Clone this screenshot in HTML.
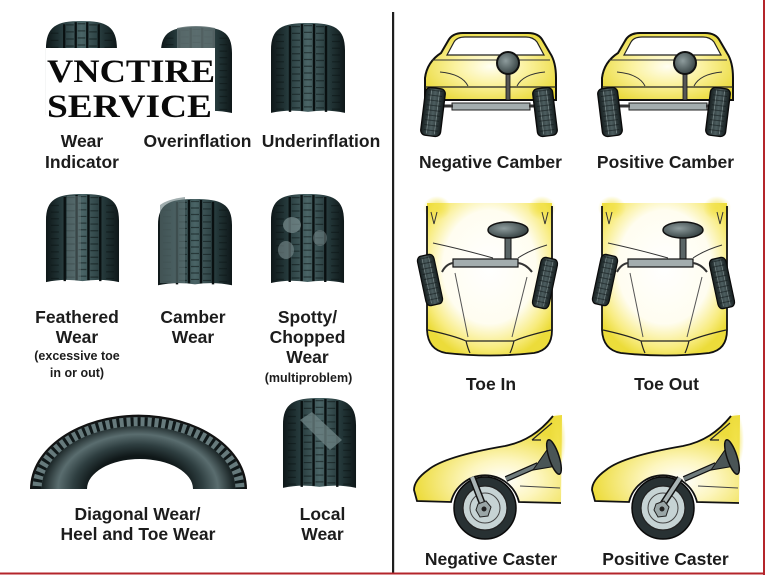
<!DOCTYPE html>
<html><head><meta charset="utf-8"><style>
html,body{margin:0;padding:0;background:#fff;}
svg{display:block;}
.l{font-family:"Liberation Sans",Arial,sans-serif;font-weight:bold;fill:#1c1c1c;font-size:17.5px;text-anchor:middle;}
.s{font-family:"Liberation Sans",Arial,sans-serif;font-weight:bold;fill:#1c1c1c;font-size:12.5px;text-anchor:middle;}
.b{font-family:"Liberation Serif","Times New Roman",serif;font-weight:bold;fill:#0a0a0a;font-size:33px;}
</style></head><body>
<svg width="768" height="576" viewBox="0 0 768 576" xmlns="http://www.w3.org/2000/svg">
<defs>
 <linearGradient id="tg" x1="0" x2="1" y1="0" y2="0">
  <stop offset="0" stop-color="#0e1718"/>
  <stop offset="0.2" stop-color="#233638"/>
  <stop offset="0.5" stop-color="#4a6466"/>
  <stop offset="0.8" stop-color="#233638"/>
  <stop offset="1" stop-color="#0e1718"/>
 </linearGradient>
 <linearGradient id="cwg" x1="0" x2="1" y1="0" y2="0">
  <stop offset="0" stop-color="#151d1e"/>
  <stop offset="0.5" stop-color="#4d5e60"/>
  <stop offset="1" stop-color="#151d1e"/>
 </linearGradient>
 <radialGradient id="yel" cx="0.5" cy="0.5" r="0.6">
  <stop offset="0" stop-color="#fffef2"/>
  <stop offset="0.45" stop-color="#fbf2a0"/>
  <stop offset="1" stop-color="#e9d938"/>
 </radialGradient>
 <radialGradient id="yel2" cx="0.5" cy="0.42" r="0.62">
  <stop offset="0" stop-color="#ffffff"/>
  <stop offset="0.6" stop-color="#fffdf0"/>
  <stop offset="0.85" stop-color="#f8ec80"/>
  <stop offset="1" stop-color="#ecdc3a"/>
 </radialGradient>
 <radialGradient id="yel3" cx="0.6" cy="0.75" r="0.6">
  <stop offset="0" stop-color="#ffffff"/>
  <stop offset="0.4" stop-color="#fdf6c0"/>
  <stop offset="1" stop-color="#eddc3c"/>
 </radialGradient>
 <radialGradient id="glow" cx="0.5" cy="0.5" r="0.5">
  <stop offset="0" stop-color="#f2e24a" stop-opacity="0.95"/>
  <stop offset="1" stop-color="#f2e24a" stop-opacity="0"/>
 </radialGradient>
 <radialGradient id="swg" cx="0.4" cy="0.4" r="0.6">
  <stop offset="0" stop-color="#8e9c9d"/>
  <stop offset="1" stop-color="#3a4647"/>
 </radialGradient>
 <radialGradient id="dg" gradientUnits="userSpaceOnUse" cx="0" cy="0" r="108" gradientTransform="translate(138,489) scale(1,0.685)">
  <stop offset="0.45" stop-color="#0f1718"/>
  <stop offset="0.6" stop-color="#2e3e40"/>
  <stop offset="0.74" stop-color="#5a6d6f"/>
  <stop offset="0.88" stop-color="#1d2829"/>
  <stop offset="1" stop-color="#111"/>
 </radialGradient>
 <g id="tire">
  <path d="M1,90 L1,28 C1,6 12,1 38,1 C64,1 75,6 75,28 L75,90 Q57,86 38,89 Q19,86 1,90 Z" fill="url(#tg)"/>
  <path d="M20,4 L20,89 M32,2 L32,88 M44,2 L44,88 M56,4 L56,89" stroke="#091011" stroke-width="2.4" fill="none"/>
  <path d="M10,12 L10,88 M26,4 L26,88 M38,3 L38,88 M50,4 L50,88 M66,12 L66,88" stroke="#0d1516" stroke-width="8" stroke-dasharray="1.2 5.5" fill="none" opacity="0.55"/>
 </g>
 <g id="cw">
  <rect x="-10" y="-24" width="20" height="48" rx="5" fill="url(#cwg)" stroke="#0a0a0a" stroke-width="1.3"/>
  <path d="M-4,-22 L-4,22 M4,-22 L4,22" stroke="#7a8a8b" stroke-width="0.8"/>
  <path d="M0,-22 L0,22" stroke="#0d1314" stroke-width="14" stroke-dasharray="1 4" opacity="0.5"/>
 </g>
 <g id="rear">
  <rect x="452" y="103" width="78" height="7" fill="#a3adae" stroke="#222" stroke-width="1"/>
  <path d="M 425,78 Q 427,62 441,53 L 448,41 Q 452,33 463,33 L 528,33 Q 539,33 543,41 L 550,53 Q 556,62 556,78 L 556,100 L 425,100 Z" fill="url(#yel)" stroke="#111" stroke-width="2"/>
  <path d="M 447,55 L 454,42 Q 457,37 465,37 L 526,37 Q 533,37 537,42 L 544,55 Z" fill="#fff" stroke="#222" stroke-width="1.2"/>
  <path d="M 432,60 L 550,60" stroke="#333" stroke-width="1"/>
  <path d="M 440,72 Q 462,74 468,86 M 545,72 Q 523,74 517,86" stroke="#333" fill="none" stroke-width="1"/>
  <path d="M 425,87 L 556,87" stroke="#222" stroke-width="1.3"/>
  <rect x="506" y="72" width="4" height="28" fill="#555" stroke="#111" stroke-width="0.8"/>
  <circle cx="508" cy="63" r="11" fill="url(#swg)" stroke="#111" stroke-width="2"/>
  <path d="M 440,106 L 453,106 M 542,106 L 529,106" stroke="#333" stroke-width="3"/>
 </g>
 <g id="top">
  <path d="M 427,203 L 427,330 Q 428,350 446,353 Q 490,358 534,353 Q 552,350 552,330 L 552,203 Z" fill="url(#yel2)"/>
  <ellipse cx="437" cy="208" rx="14" ry="12" fill="url(#glow)"/>
  <ellipse cx="542" cy="208" rx="14" ry="12" fill="url(#glow)"/>
  <path d="M 427,206 L 427,330 Q 428,350 446,353 Q 490,358 534,353 Q 552,350 552,330 L 552,206" fill="none" stroke="#111" stroke-width="1.8"/>
  <path d="M 431,212 L 434,224 L 437,212 M 548,212 L 545,224 L 542,212" stroke="#333" fill="none" stroke-width="1"/>
  <path d="M 433,243 Q 465,250 493,258 M 547,245 Q 530,250 518,258" stroke="#333" fill="none" stroke-width="1"/>
  <path d="M 455,273 L 468,337 M 527,277 L 512,337" stroke="#555" stroke-width="1"/>
  <path d="M 428,330 Q 455,336 466,341 Q 468,349 470,353 M 551,330 Q 525,336 514,341 Q 512,349 510,353 M 466,341 L 514,341" stroke="#222" fill="none" stroke-width="1.2"/>
  <rect x="505" y="236" width="6" height="26" fill="#5a6566" stroke="#111" stroke-width="1"/>
  <ellipse cx="508" cy="230" rx="20" ry="8" fill="url(#swg)" stroke="#111" stroke-width="1.5"/>
  <rect x="453" y="259" width="65" height="8" fill="#a3adae" stroke="#111" stroke-width="1.2"/>
  <path d="M 453,263 Q 446,264 442,272 M 518,263 Q 526,264 532,272" stroke="#333" fill="none" stroke-width="2"/>
 </g>
 <g id="side">
  <path d="M 553,416 C 540,432 525,442 505,446 C 470,452 440,460 428,470 Q 414,480 414,490 L 417,501 L 451,502 A 35,35 0 0 1 519,502 L 561,503 L 562,415 Z" fill="url(#yel3)"/>
  <ellipse cx="558" cy="440" rx="8" ry="28" fill="url(#glow)"/>
  <path d="M 553,416 C 540,432 525,442 505,446 C 470,452 440,460 428,470 Q 414,480 414,490 L 417,501 L 451,502 A 35,35 0 0 1 519,502 L 561,503" fill="none" stroke="#111" stroke-width="1.8"/>
  <path d="M 532,440 L 552,423 M 532,440 L 541,440" stroke="#222" stroke-width="1.2"/>
  <path d="M 520,486 L 560,488" stroke="#444" stroke-width="1"/>
  <path d="M 506,479 L 538,465" stroke="#111" stroke-width="6"/>
  <path d="M 506,479 L 538,465" stroke="#6f7b7c" stroke-width="3.5"/>
  <path d="M 533,470 L 549,447 L 557,466 Z" fill="#4a5556" stroke="#111" stroke-width="1"/>
  <ellipse cx="554" cy="457" rx="5" ry="18" transform="rotate(-18 554 457)" fill="#4a5556" stroke="#111" stroke-width="1.5"/>
  <circle cx="485" cy="508" r="31" fill="#283133" stroke="#0a0a0a" stroke-width="1.5"/>
  <circle cx="485" cy="508" r="22" fill="#c6d3d4" stroke="#222" stroke-width="1.2"/>
  <circle cx="485" cy="508" r="15" fill="none" stroke="#444" stroke-width="1"/>
 </g>
</defs>

<rect width="768" height="576" fill="#fff"/>

<!-- LEFT: tires -->
<use href="#tire" transform="translate(45,20) scale(0.96,1.055)"/>

<use href="#tire" transform="translate(160,26) scale(0.96,0.967)"/>
<path d="M177,28 Q196,24 215,28 L215,110 Q196,108 177,110 Z" fill="#5e6f70" opacity="0.85"/>

<use href="#tire" transform="translate(270,22) scale(1,1.01)"/>

<use href="#tire" transform="translate(45,193) scale(0.987,0.99)"/>
<path d="M67,196 L81,196 L81,280 L67,280 Z" fill="#6a7c7e" opacity="0.5"/>

<use href="#tire" transform="translate(157,198) scale(1,0.97)"/>
<path d="M160,205 Q168,199 185,197 L185,283 L160,283 Z" fill="#62787a" opacity="0.6"/>

<use href="#tire" transform="translate(270,193) scale(0.987,1)"/>
<ellipse cx="292" cy="225" rx="9" ry="8" fill="#7b8e90" opacity="0.7"/>
<ellipse cx="286" cy="250" rx="8" ry="9" fill="#7b8e90" opacity="0.6"/>
<ellipse cx="320" cy="238" rx="7" ry="8" fill="#7b8e90" opacity="0.5"/>

<use href="#tire" transform="translate(282,397) scale(0.987,1.01)"/>
<path d="M300,420 L312,412 L342,440 L330,450 Z" fill="#6f8486" opacity="0.75"/>

<!-- diagonal arc tire -->
<path d="M30,489 A108,74 0 0 1 247,489 L193,489 A53,30 0 0 0 87,489 Z" fill="url(#dg)"/>
<path d="M37,489 A101,67 0 0 1 240,489" fill="none" stroke="#667a7c" stroke-width="9"/>
<path d="M37,489 A101,67 0 0 1 240,489" fill="none" stroke="#101819" stroke-width="9" stroke-dasharray="3 4"/>

<!-- watermark box -->
<rect x="46" y="48" width="169" height="71" fill="#fff"/>
<text class="b" x="47" y="82" textLength="168" lengthAdjust="spacingAndGlyphs">VNCTIRE</text>
<text class="b" x="47" y="117" textLength="165" lengthAdjust="spacingAndGlyphs">SERVICE</text>

<!-- left labels -->
<text class="l" x="82" y="147">Wear</text>
<text class="l" x="82" y="168">Indicator</text>
<text class="l" x="197.5" y="147">Overinflation</text>
<text class="l" x="321" y="147">Underinflation</text>

<text class="l" x="77" y="323">Feathered</text>
<text class="l" x="77" y="343">Wear</text>
<text class="s" x="77" y="360">(excessive toe</text>
<text class="s" x="77" y="377">in or out)</text>
<text class="l" x="193" y="323">Camber</text>
<text class="l" x="193" y="343">Wear</text>
<text class="l" x="307.5" y="323">Spotty/</text>
<text class="l" x="307.5" y="343">Chopped</text>
<text class="l" x="307.5" y="363">Wear</text>
<text class="s" x="308.5" y="382">(multiproblem)</text>

<text class="l" x="137.5" y="520">Diagonal Wear/</text>
<text class="l" x="138" y="540">Heel and Toe Wear</text>
<text class="l" x="322.5" y="520">Local</text>
<text class="l" x="322.5" y="540">Wear</text>

<!-- divider -->
<rect x="392" y="12" width="2.2" height="561" fill="#1e1e1e"/>

<!-- RIGHT: camber -->
<use href="#rear"/>
<use href="#cw" transform="translate(433,112) rotate(7)"/>
<use href="#cw" transform="translate(545,112) rotate(-7)"/>

<use href="#rear" transform="translate(177,0)"/>
<use href="#cw" transform="translate(610,112) rotate(-7)"/>
<use href="#cw" transform="translate(718,112) rotate(7)"/>

<text class="l" x="490.5" y="168">Negative Camber</text>
<text class="l" x="665.5" y="168">Positive Camber</text>

<!-- toe -->
<use href="#top"/>
<use href="#cw" transform="translate(430,280) rotate(-12) scale(0.85,1.05)"/>
<use href="#cw" transform="translate(545,283) rotate(12) scale(0.85,1.05)"/>

<use href="#top" transform="translate(175,0)"/>
<use href="#cw" transform="translate(605,280) rotate(12) scale(0.85,1.05)"/>
<use href="#cw" transform="translate(722,283) rotate(-12) scale(0.85,1.05)"/>

<text class="l" x="491" y="390">Toe In</text>
<text class="l" x="666.5" y="390">Toe Out</text>

<!-- caster -->
<use href="#side"/>
<path d="M472,477 L486,513" stroke="#111" stroke-width="7"/>
<path d="M472,477 L486,513" stroke="#a9b4b5" stroke-width="4"/>
<path d="M478,504 L486,501 L491,507 L488,516 L480,517 L476,510 Z" fill="#9aa6a7" stroke="#222" stroke-width="1"/>
<circle cx="484" cy="509" r="2.5" fill="#222"/>

<use href="#side" transform="translate(178,0)"/>
<path d="M680,478 L657,513" stroke="#111" stroke-width="7"/>
<path d="M680,478 L657,513" stroke="#a9b4b5" stroke-width="4"/>
<path d="M656,504 L664,501 L669,507 L666,516 L658,517 L654,510 Z" fill="#9aa6a7" stroke="#222" stroke-width="1"/>
<circle cx="662" cy="509" r="2.5" fill="#222"/>

<text class="l" x="491" y="565">Negative Caster</text>
<text class="l" x="665.5" y="565">Positive Caster</text>

<!-- red frame -->
<rect x="763" y="0" width="2" height="575" fill="#b4252b"/>
<rect x="0" y="572.5" width="765" height="2" fill="#b4252b"/>
</svg>
</body></html>
